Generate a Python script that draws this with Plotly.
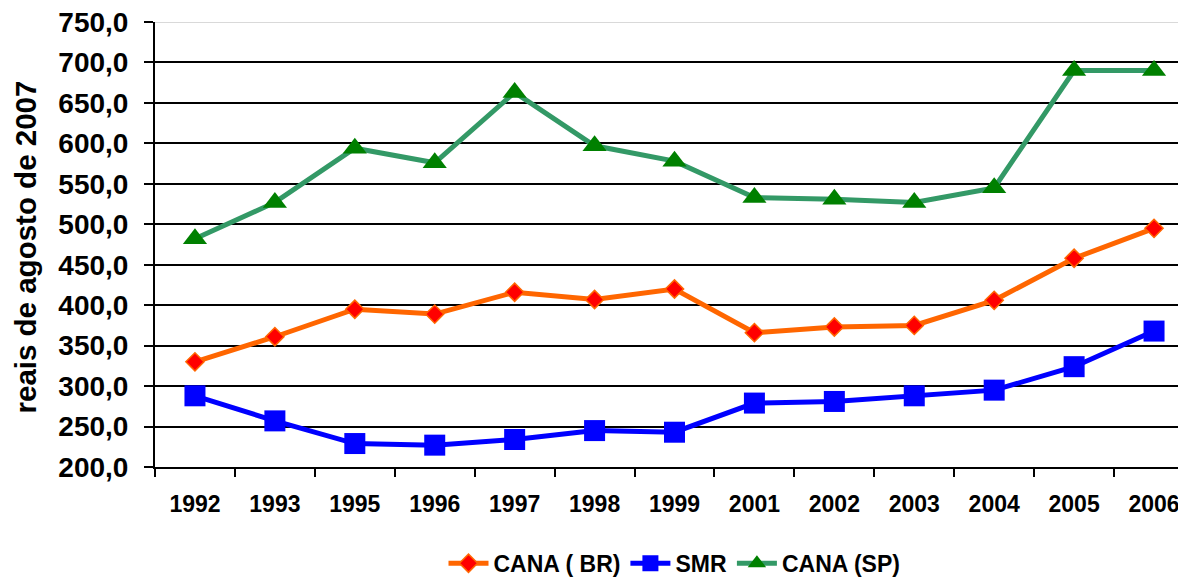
import plotly.graph_objects as go

years = ["1992", "1993", "1995", "1996", "1997", "1998", "1999",
         "2001", "2002", "2003", "2004", "2005", "2006"]
cana_br = [330, 361, 395, 389, 416, 407, 420, 366, 373, 375, 406, 458, 495]
smr = [288, 257, 229, 227, 234, 245, 243, 279, 281, 288, 295, 324, 368]
cana_sp = [482, 527, 594, 576, 663, 597, 578, 533, 531, 527, 545, 690, 690]
y_ticks = [200, 250, 300, 350, 400, 450, 500, 550, 600, 650, 700, 750]

FONT = "Liberation Sans, Arial, sans-serif"

fig = go.Figure()
fig.add_trace(go.Scatter(
    x=years, y=cana_br, name="CANA ( BR)", mode="lines+markers",
    line=dict(color="#FF6600", width=5),
    marker=dict(symbol="diamond", size=14, color="#FF0000",
                line=dict(color="#FF6600", width=1.5))))
fig.add_trace(go.Scatter(
    x=years, y=smr, name="SMR", mode="lines+markers",
    line=dict(color="#0000FF", width=5),
    marker=dict(symbol="square", size=21, color="#0000FF",
                line=dict(width=0))))
fig.add_trace(go.Scatter(
    x=years, y=cana_sp, name="CANA (SP)", mode="lines+markers",
    line=dict(color="#339966", width=5),
    marker=dict(symbol="triangle-up", size=21, color="#008000",
                line=dict(width=0))))

fig.update_layout(
    width=1186, height=578,
    margin=dict(l=147, r=0, t=13.7, b=119.3, autoexpand=False),
    paper_bgcolor="white", plot_bgcolor="white",
    separators=",.",
    font=dict(family=FONT, color="black"),
    showlegend=True,
    legend=dict(orientation="h", x=0.5, xanchor="center",
                y=-0.2164, yanchor="middle",
                font=dict(family=FONT, size=23, color="black",
                          weight="bold"),
                itemwidth=40,
                bgcolor="rgba(0,0,0,0)"),
)
fig.update_xaxes(
    type="category", range=[-0.5, 12.5], automargin=False,
    ticklabeloverflow="allow",
    showline=True, linecolor="black", linewidth=2,
    ticks="outside", ticklen=8, tickcolor="black", tickwidth=2,
    tickson="boundaries", showgrid=False, zeroline=False,
    ticklabelstandoff=15,
    tickfont=dict(family=FONT, size=23, color="black", weight="bold"))
fig.update_yaxes(
    range=[200, 750], tickvals=y_ticks, tickformat=".1f", automargin=False,
    ticklabeloverflow="allow",
    showline=True, linecolor="black", linewidth=2,
    ticks="outside", ticklen=9, tickcolor="black", tickwidth=2,
    showgrid=True, gridcolor="black", gridwidth=2, zeroline=False,
    ticklabelstandoff=10,
    tickfont=dict(family=FONT, size=28, color="black", weight="bold"))

fig.add_shape(type="line", xref="paper", yref="y", x0=0, x1=1,
              y0=750, y1=750, line=dict(color="#D9D9D9", width=2),
              layer="above")

fig.add_annotation(text="reais de agosto de 2007", textangle=-90,
                   xref="paper", yref="paper", x=0, y=0.5,
                   xanchor="center", yanchor="middle",
                   xshift=-130, yshift=-3, showarrow=False,
                   font=dict(family=FONT, size=29.5, color="black",
                             weight="bold"))

fig.write_html("out.html")
